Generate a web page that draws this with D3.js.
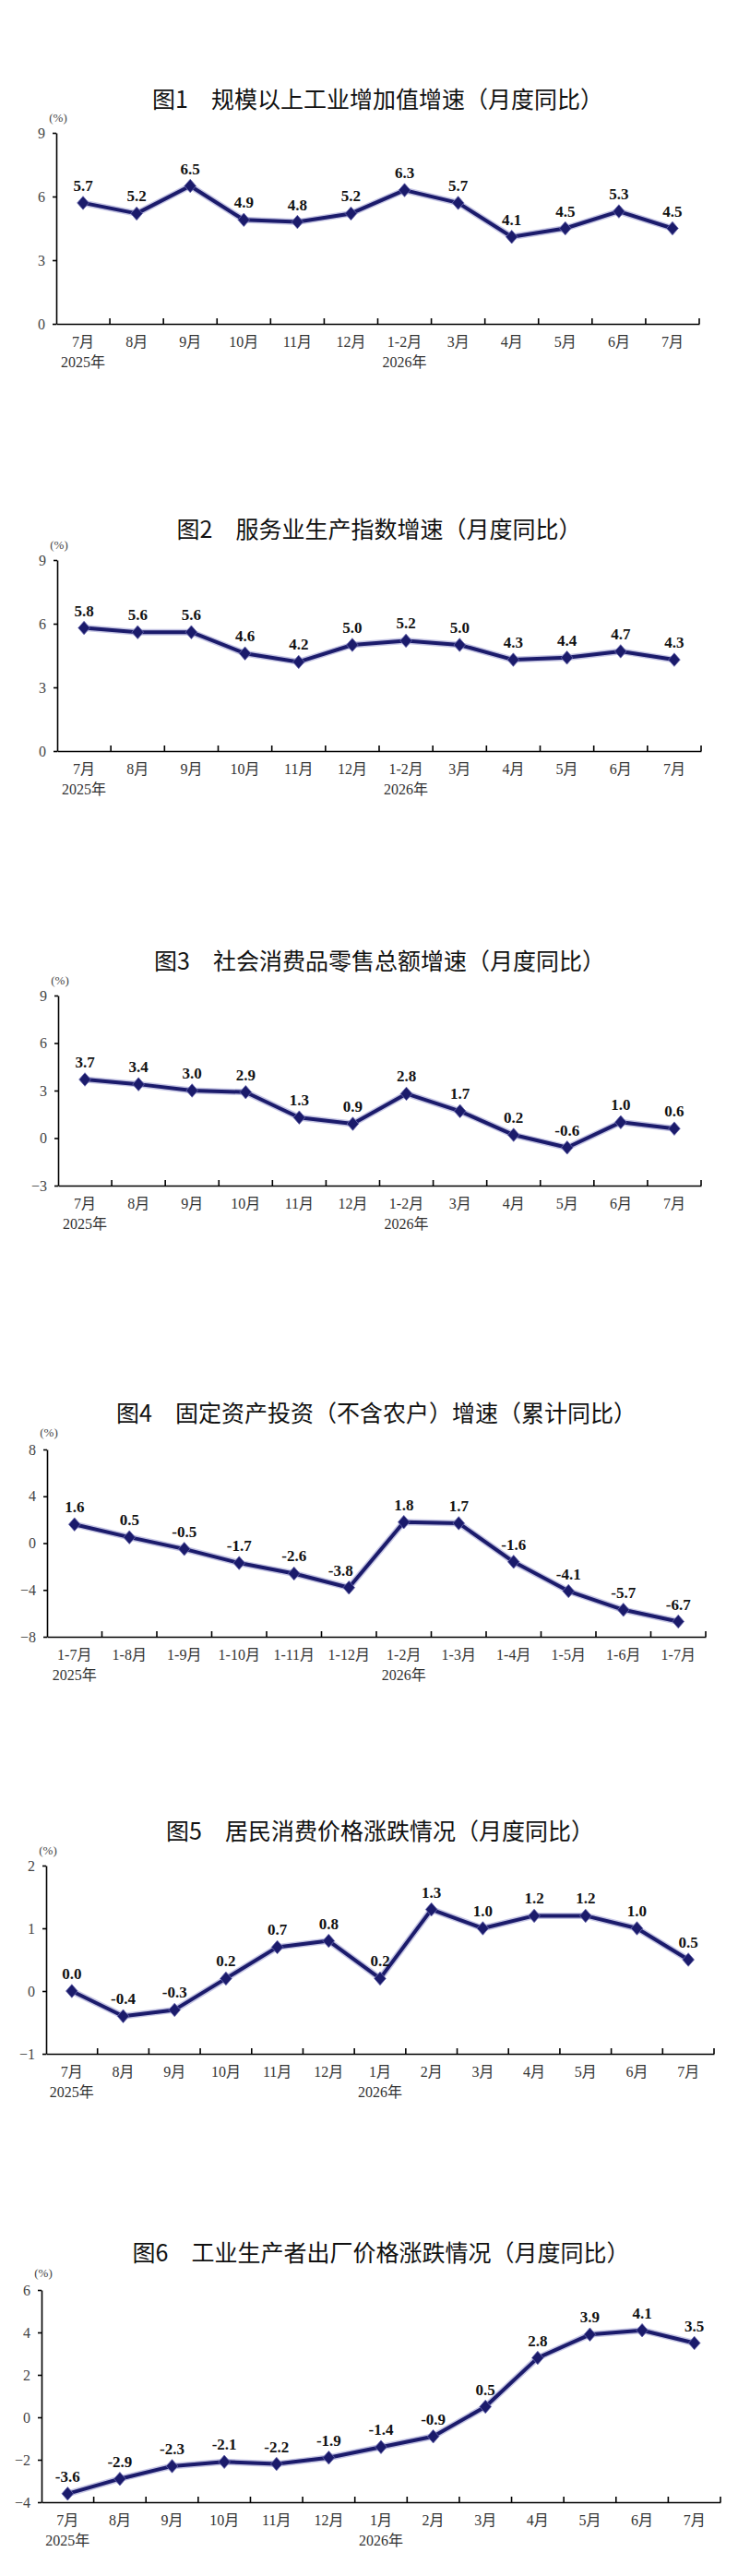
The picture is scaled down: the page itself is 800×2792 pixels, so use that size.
<!DOCTYPE html>
<html>
<head>
<meta charset="utf-8">
<script src="https://cdn.jsdelivr.net/npm/d3@7"></script>
<style>
  body { margin: 0; background: #fff; }
  svg { display: block; }
</style>
</head>
<body>
<svg width="800" height="2792"></svg>
<script>
// categories
const monthsA = ["7月", "8月", "9月", "10月", "11月", "12月", "1-2月", "3月", "4月", "5月", "6月", "7月"];
const monthsCum = ["1-7月", "1-8月", "1-9月", "1-10月", "1-11月", "1-12月", "1-2月", "1-3月", "1-4月", "1-5月", "1-6月", "1-7月"];
const monthsB = ["7月", "8月", "9月", "10月", "11月", "12月", "1月", "2月", "3月", "4月", "5月", "6月", "7月"];

// series values (%)
const industryVals = [5.7, 5.2, 6.5, 4.9, 4.8, 5.2, 6.3, 5.7, 4.1, 4.5, 5.3, 4.5];
const servicesVals = [5.8, 5.6, 5.6, 4.6, 4.2, 5.0, 5.2, 5.0, 4.3, 4.4, 4.7, 4.3];
const retailVals = [3.7, 3.4, 3.0, 2.9, 1.3, 0.9, 2.8, 1.7, 0.2, -0.6, 1.0, 0.6];
const investVals = [1.6, 0.5, -0.5, -1.7, -2.6, -3.8, 1.8, 1.7, -1.6, -4.1, -5.7, -6.7];
const cpiVals = [0.0, -0.4, -0.3, 0.2, 0.7, 0.8, 0.2, 1.3, 1.0, 1.2, 1.2, 1.0, 0.5];
const ppiVals = [-3.6, -2.9, -2.3, -2.1, -2.2, -1.9, -1.4, -0.9, 0.5, 2.8, 3.9, 4.1, 3.5];

// y tick labels
const ticks1 = [0, 3, 6, 9];
const ticks2 = [0, 3, 6, 9];
const ticks3 = [-3, 0, 3, 6, 9];
const ticks4 = [-8, -4, 0, 4, 8];
const ticks5 = [-1, 0, 1, 2];
const ticks6 = [-4, -2, 0, 2, 4, 6];

const titles = [
  "图1　规模以上工业增加值增速（月度同比）",
  "图2　服务业生产指数增速（月度同比）",
  "图3　社会消费品零售总额增速（月度同比）",
  "图4　固定资产投资（不含农户）增速（累计同比）",
  "图5　居民消费价格涨跌情况（月度同比）",
  "图6　工业生产者出厂价格涨跌情况（月度同比）"
];
const yearLabels = ["2025年", "2026年"];

// layout of each panel
const charts = [
  {title: titles[0], cats: monthsA, vals: industryVals, ticks: ticks1, left: 61, right: 758, top: 144, bottom: 351, titleY: 106, pctY: 127},
  {title: titles[1], cats: monthsA, vals: servicesVals, ticks: ticks2, left: 62, right: 760, top: 607, bottom: 814, titleY: 572, pctY: 590},
  {title: titles[2], cats: monthsA, vals: retailVals, ticks: ticks3, left: 63, right: 760, top: 1079, bottom: 1285, titleY: 1040, pctY: 1062},
  {title: titles[3], cats: monthsCum, vals: investVals, ticks: ticks4, left: 51, right: 765, top: 1571, bottom: 1774, titleY: 1530, pctY: 1552, nudge: {5: -9}},
  {title: titles[4], cats: monthsB, vals: cpiVals, ticks: ticks5, left: 50, right: 774, top: 2022, bottom: 2226, titleY: 1983, pctY: 2005},
  {title: titles[5], cats: monthsB, vals: ppiVals, ticks: ticks6, left: 45, right: 781, top: 2482, bottom: 2712, titleY: 2440, pctY: 2463}
];

const serif = "'Liberation Serif', 'Times New Roman', 'Noto Sans CJK SC', serif";
const sans = "'Noto Sans CJK SC', 'Noto Sans', sans-serif";
const lineColor = "#1b1b6b";

const svg = d3.select("svg");
svg.append("rect").attr("width", 800).attr("height", 2792).attr("fill", "#fff");

// diamond marker, a bit taller than wide
const diamond = {
  draw(ctx, size) {
    const w = Math.sqrt(size) / 2, h = w * 1.15;
    ctx.moveTo(0, -h);
    ctx.lineTo(w, 0);
    ctx.lineTo(0, h);
    ctx.lineTo(-w, 0);
    ctx.closePath();
  }
};

function drawChart(cfg) {
  const g = svg.append("g");
  const idx = cfg.cats.map((c, i) => i);

  const x = d3.scaleBand()
      .domain(idx)
      .range([cfg.left, cfg.right])
      .padding(0);

  const y = d3.scaleLinear()
      .domain(d3.extent(cfg.ticks))
      .range([cfg.bottom, cfg.top]);

  // title
  g.append("text")
      .attr("x", (cfg.left + cfg.right) / 2)
      .attr("y", cfg.titleY)
      .attr("text-anchor", "middle")
      .attr("dominant-baseline", "central")
      .style("font-family", sans)
      .style("font-size", "25px")
      .style("fill", "#111")
      .text(cfg.title);

  // unit
  g.append("text")
      .attr("x", cfg.left + 2)
      .attr("y", cfg.pctY)
      .attr("text-anchor", "middle")
      .attr("dominant-baseline", "central")
      .style("font-family", serif)
      .style("font-size", "13px")
      .style("fill", "#444")
      .text("(%)");

  // y axis
  const yAxis = g.append("g")
      .attr("transform", `translate(${cfg.left},0)`)
      .call(d3.axisLeft(y).tickValues(cfg.ticks).tickFormat(d3.format("d"))
        .tickSize(4).tickSizeOuter(0).tickPadding(8));
  yAxis.select(".domain").attr("stroke", "#000").attr("stroke-width", 1.6);
  yAxis.selectAll(".tick line").attr("stroke", "#000").attr("stroke-width", 1.6);
  yAxis.selectAll(".tick text")
      .style("font-family", serif)
      .style("font-size", "16px")
      .style("fill", "#444");

  // x axis
  const xAxis = g.append("g")
      .attr("transform", `translate(0,${cfg.bottom})`)
      .call(d3.axisBottom(x).tickSize(0).tickPadding(14).tickFormat(i => cfg.cats[i]));
  xAxis.select(".domain").attr("stroke", "#000").attr("stroke-width", 1.6);
  xAxis.selectAll(".tick text")
      .style("font-family", serif)
      .style("font-size", "16px")
      .style("fill", "#333");

  // category boundary ticks pointing up
  g.selectAll(".bnd")
      .data(idx)
      .enter().append("line")
      .attr("x1", d => x(d) + x.bandwidth())
      .attr("x2", d => x(d) + x.bandwidth())
      .attr("y1", cfg.bottom)
      .attr("y2", cfg.bottom - 6)
      .attr("stroke", "#000")
      .attr("stroke-width", 1.6);

  // year labels
  const yearAt = [0, 6];
  g.selectAll(".yr")
      .data(yearAt)
      .enter().append("text")
      .attr("x", d => x(d) + x.bandwidth() / 2)
      .attr("y", cfg.bottom + 47)
      .attr("text-anchor", "middle")
      .style("font-family", serif)
      .style("font-size", "16px")
      .style("fill", "#333")
      .text((d, i) => yearLabels[i]);

  const cx = i => x(i) + x.bandwidth() / 2;
  const line = d3.line()
      .x((d, i) => cx(i))
      .y(d => y(d));

  // soft halo under the line
  g.append("path")
      .datum(cfg.vals)
      .attr("d", line)
      .attr("fill", "none")
      .attr("stroke", "#7f7fc4")
      .attr("stroke-opacity", 0.45)
      .attr("stroke-width", 7)
      .attr("stroke-linejoin", "round");

  g.append("path")
      .datum(cfg.vals)
      .attr("d", line)
      .attr("fill", "none")
      .attr("stroke", lineColor)
      .attr("stroke-width", 4)
      .attr("stroke-linejoin", "round");

  g.selectAll(".pt")
      .data(cfg.vals)
      .enter().append("path")
      .attr("transform", (d, i) => `translate(${cx(i)},${y(d)})`)
      .attr("d", d3.symbol().type(diamond).size(160))
      .attr("fill", lineColor)
      .attr("stroke", "#6a6ab0")
      .attr("stroke-width", 0.8);

  // value labels
  const nudge = cfg.nudge || {};
  g.selectAll(".lbl")
      .data(cfg.vals)
      .enter().append("text")
      .attr("x", (d, i) => cx(i) + (nudge[i] || 0))
      .attr("y", d => y(d) - 13)
      .attr("text-anchor", "middle")
      .style("font-family", serif)
      .style("font-size", "17px")
      .style("font-weight", "bold")
      .style("fill", "#111")
      .text(d => d.toFixed(1));
}

charts.forEach(drawChart);
</script>
</body>
</html>
